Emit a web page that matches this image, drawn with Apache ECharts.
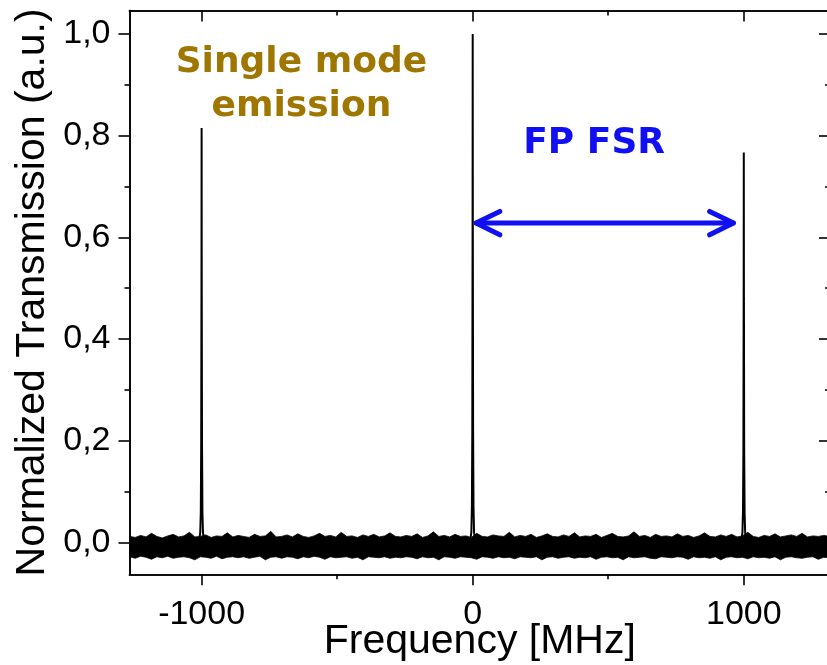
<!DOCTYPE html>
<html>
<head>
<meta charset="utf-8">
<script src="https://cdn.jsdelivr.net/npm/echarts@6/dist/echarts.min.js"></script>
<style>
html,body{margin:0;padding:0;background:#fff;}
#chart{width:827px;height:665px;}
</style>
</head>
<body>
<div id="chart"></div>
<script>
// ---------- data ----------
var xMin = -1266, xMax = 1318;
var yMin = -0.0625, yMax = 1.046;
var xMajorTicks = [-1000, 0, 1000];
var xMinorTicks = [-500, 500];
var yMajorTicks = [0, 0.2, 0.4, 0.6, 0.8, 1.0];
var yMinorTicks = [0.1, 0.3, 0.5, 0.7, 0.9];

// noise floor sampled every 20 MHz starting at -1265 MHz (upper / lower envelope)
var noiseStart = -1265, noiseStep = 20;
var noiseUpper = [
0.012,0.010,0.014,0.011,0.018,0.012,0.009,0.013,0.016,0.011,
0.013,0.020,0.011,0.012,0.015,0.010,0.013,0.012,0.019,0.011,
0.014,0.012,0.010,0.016,0.012,0.013,0.022,0.011,0.012,0.015,
0.011,0.017,0.012,0.010,0.013,0.018,0.012,0.014,0.011,0.020,
0.012,0.013,0.010,0.015,0.012,0.016,0.011,0.013,0.019,0.012,
0.011,0.014,0.012,0.017,0.010,0.013,0.021,0.012,0.014,0.011,
0.016,0.012,0.013,0.010,0.018,0.012,0.011,0.015,0.013,0.012,
0.020,0.011,0.014,0.012,0.016,0.010,0.013,0.017,0.012,0.011,
0.015,0.012,0.019,0.011,0.013,0.012,0.016,0.010,0.014,0.018,
0.012,0.011,0.013,0.021,0.012,0.014,0.010,0.016,0.012,0.013,
0.011,0.017,0.012,0.014,0.010,0.013,0.019,0.012,0.011,0.015,
0.012,0.016,0.011,0.013,0.020,0.012,0.010,0.014,0.012,0.017,
0.011,0.013,0.015,0.012,0.018,0.011,0.013,0.012,0.014,0.012
];
var noiseLower = [
-0.028,-0.031,-0.027,-0.029,-0.033,-0.028,-0.030,-0.027,-0.031,-0.029,
-0.028,-0.030,-0.034,-0.028,-0.029,-0.031,-0.027,-0.032,-0.029,-0.028,
-0.030,-0.028,-0.031,-0.029,-0.027,-0.034,-0.029,-0.028,-0.031,-0.028,
-0.029,-0.032,-0.028,-0.030,-0.027,-0.029,-0.033,-0.028,-0.030,-0.029,
-0.028,-0.031,-0.029,-0.034,-0.028,-0.029,-0.030,-0.028,-0.031,-0.029,
-0.030,-0.028,-0.029,-0.032,-0.028,-0.030,-0.029,-0.034,-0.028,-0.029,
-0.031,-0.028,-0.029,-0.030,-0.033,-0.028,-0.029,-0.031,-0.028,-0.030,
-0.029,-0.032,-0.028,-0.029,-0.030,-0.028,-0.034,-0.029,-0.028,-0.031,
-0.029,-0.028,-0.031,-0.029,-0.030,-0.028,-0.033,-0.029,-0.028,-0.030,
-0.029,-0.034,-0.028,-0.030,-0.029,-0.028,-0.031,-0.032,-0.028,-0.029,
-0.030,-0.028,-0.029,-0.033,-0.028,-0.030,-0.029,-0.031,-0.028,-0.034,
-0.029,-0.028,-0.030,-0.029,-0.032,-0.028,-0.030,-0.029,-0.031,-0.028,
-0.034,-0.029,-0.028,-0.030,-0.031,-0.029,-0.028,-0.033,-0.029,-0.030
];

// transmission peaks (MHz, a.u.)
var peakLeft = [[-1010,0.0],[-1005,0.02],[-1003,0.06],[-1001.5,0.2],[-1000.5,0.5],[-1000,0.815],[-999.5,0.5],[-998.5,0.2],[-997,0.06],[-995,0.02],[-990,0.0]];
var peakCenter = [[-10,0.0],[-5,0.02],[-3,0.07],[-1.5,0.22],[-0.5,0.6],[0,1.0],[0.5,0.6],[1.5,0.22],[3,0.07],[5,0.02],[10,0.0]];
var peakRight = [[990,0.0],[995,0.02],[997,0.06],[998.5,0.18],[999.5,0.48],[1000,0.767],[1000.5,0.48],[1001.5,0.18],[1003,0.06],[1005,0.02],[1010,0.0]];

// FSR arrow (MHz, a.u.)
var arrowShaft = [[16,0.628],[958,0.628]];
var arrowHeadLeft = [[100,0.651],[12,0.628],[100,0.605]];
var arrowHeadRight = [[874,0.651],[962,0.628],[874,0.605]];

// annotations (anchor in data coordinates)
var annotSingleText = 'Single mode\nemission';
var annotSingleAt = [-632, 0.901];
var annotFSRText = 'FP FSR';
var annotFSRAt = [448, 0.785];

// ---------- build ----------
var xs = noiseUpper.map(function(_, i){ return noiseStart + i*noiseStep; });

var BLUE = '#1010f2', GOLD = '#9e7600';
var fontFam = '"Liberation Sans", Arial, sans-serif';

function xAx(pos, ticks, len, inside, labels, extra){
  var o = {
    type:'value', position:pos, min:xMin, max:xMax, gridIndex:0,
    axisLine:{show:true, onZero:false, lineStyle:{color:'#000', width:1.6}},
    axisTick:{show:true, inside:inside, length:len, customValues:ticks, lineStyle:{color:'#000', width:1.6}},
    axisLabel:{show:labels, customValues:ticks, margin:23, fontSize:34, color:'#000', fontFamily:fontFam,
      formatter:function(v){ return String(v); }},
    splitLine:{show:false}, minorTick:{show:false}
  };
  for (var k in extra) o[k] = extra[k];
  return o;
}
function yAx(pos, ticks, len, inside, labels, extra){
  var o = {
    type:'value', position:pos, min:yMin, max:yMax, gridIndex:0,
    axisLine:{show:true, onZero:false, lineStyle:{color:'#000', width:1.6}},
    axisTick:{show:true, inside:inside, length:len, customValues:ticks, lineStyle:{color:'#000', width:1.6}},
    axisLabel:{show:labels, customValues:ticks, margin:19, fontSize:34, color:'#000', fontFamily:fontFam,
      formatter:function(v){ return v.toFixed(1).replace('.', ','); }},
    splitLine:{show:false}, minorTick:{show:false}
  };
  for (var k in extra) o[k] = extra[k];
  return o;
}

var chart = echarts.init(document.getElementById('chart'), null, {renderer:'canvas'});
chart.setOption({
  backgroundColor:'#fff',
  animation:false,
  grid:{left:129.5, top:10.5, right:-3, bottom:90.7, containLabel:false, outerBoundsMode:'none'},
  xAxis:[
    xAx('bottom', xMajorTicks, 11, false, true, {name:'Frequency [MHz]', nameLocation:'middle', nameGap:47, nameMoveOverlap:false,
      nameTextStyle:{fontSize:41, color:'#000', fontFamily:fontFam}}),
    xAx('bottom', xMinorTicks, 5, false, false, {}),
    xAx('top', xMajorTicks, 11, true, false, {}),
    xAx('top', xMinorTicks, 5, true, false, {})
  ],
  yAxis:[
    yAx('left', yMajorTicks, 11, false, true, {name:'Normalized Transmission (a.u.)', nameLocation:'middle', nameGap:76, nameMoveOverlap:false,
      nameTextStyle:{fontSize:41, color:'#000', fontFamily:fontFam}}),
    yAx('left', yMinorTicks, 5, false, false, {}),
    yAx('right', yMajorTicks, 11, true, false, {}),
    yAx('right', yMinorTicks, 5, true, false, {})
  ],
  series:[
    {type:'custom', data:[[0,0]], silent:true, z:2,
      renderItem:function(params, api){
        var pts = [];
        for (var i = 0; i < xs.length; i++) pts.push(api.coord([xs[i], noiseUpper[i]]));
        for (var j = xs.length - 1; j >= 0; j--) pts.push(api.coord([xs[j], noiseLower[j]]));
        return {type:'polygon', shape:{points:pts}, style:{fill:'#000', stroke:'#000', lineWidth:0.8}};
      }},
    {type:'line', data:peakLeft, symbol:'none', lineStyle:{color:'#000', width:2}, z:3},
    {type:'line', data:peakCenter, symbol:'none', lineStyle:{color:'#000', width:2}, z:3},
    {type:'line', data:peakRight, symbol:'none', lineStyle:{color:'#000', width:2}, z:3},
    {type:'line', data:arrowShaft, symbol:'none', lineStyle:{color:BLUE, width:5, cap:'round'}, z:4},
    {type:'line', data:arrowHeadLeft, symbol:'none', lineStyle:{color:BLUE, width:5, cap:'round', join:'round'}, z:4},
    {type:'line', data:arrowHeadRight, symbol:'none', lineStyle:{color:BLUE, width:5, cap:'round', join:'round'}, z:4}
  ]
});

var p1 = chart.convertToPixel({gridIndex:0}, annotSingleAt);
var p2 = chart.convertToPixel({gridIndex:0}, annotFSRAt);
chart.setOption({
  graphic:[
    {type:'text', x:p1[0], y:p1[1], z:10, silent:true,
      style:{text:annotSingleText, fill:GOLD, font:'bold 36px "DejaVu Sans", Verdana, sans-serif',
        lineHeight:44, align:'center', verticalAlign:'middle'}},
    {type:'text', x:p2[0], y:p2[1], z:10, silent:true,
      style:{text:annotFSRText, fill:BLUE, font:'bold 36px "DejaVu Sans", Verdana, sans-serif',
        align:'center', verticalAlign:'middle'}}
  ]
});
</script>
</body>
</html>
